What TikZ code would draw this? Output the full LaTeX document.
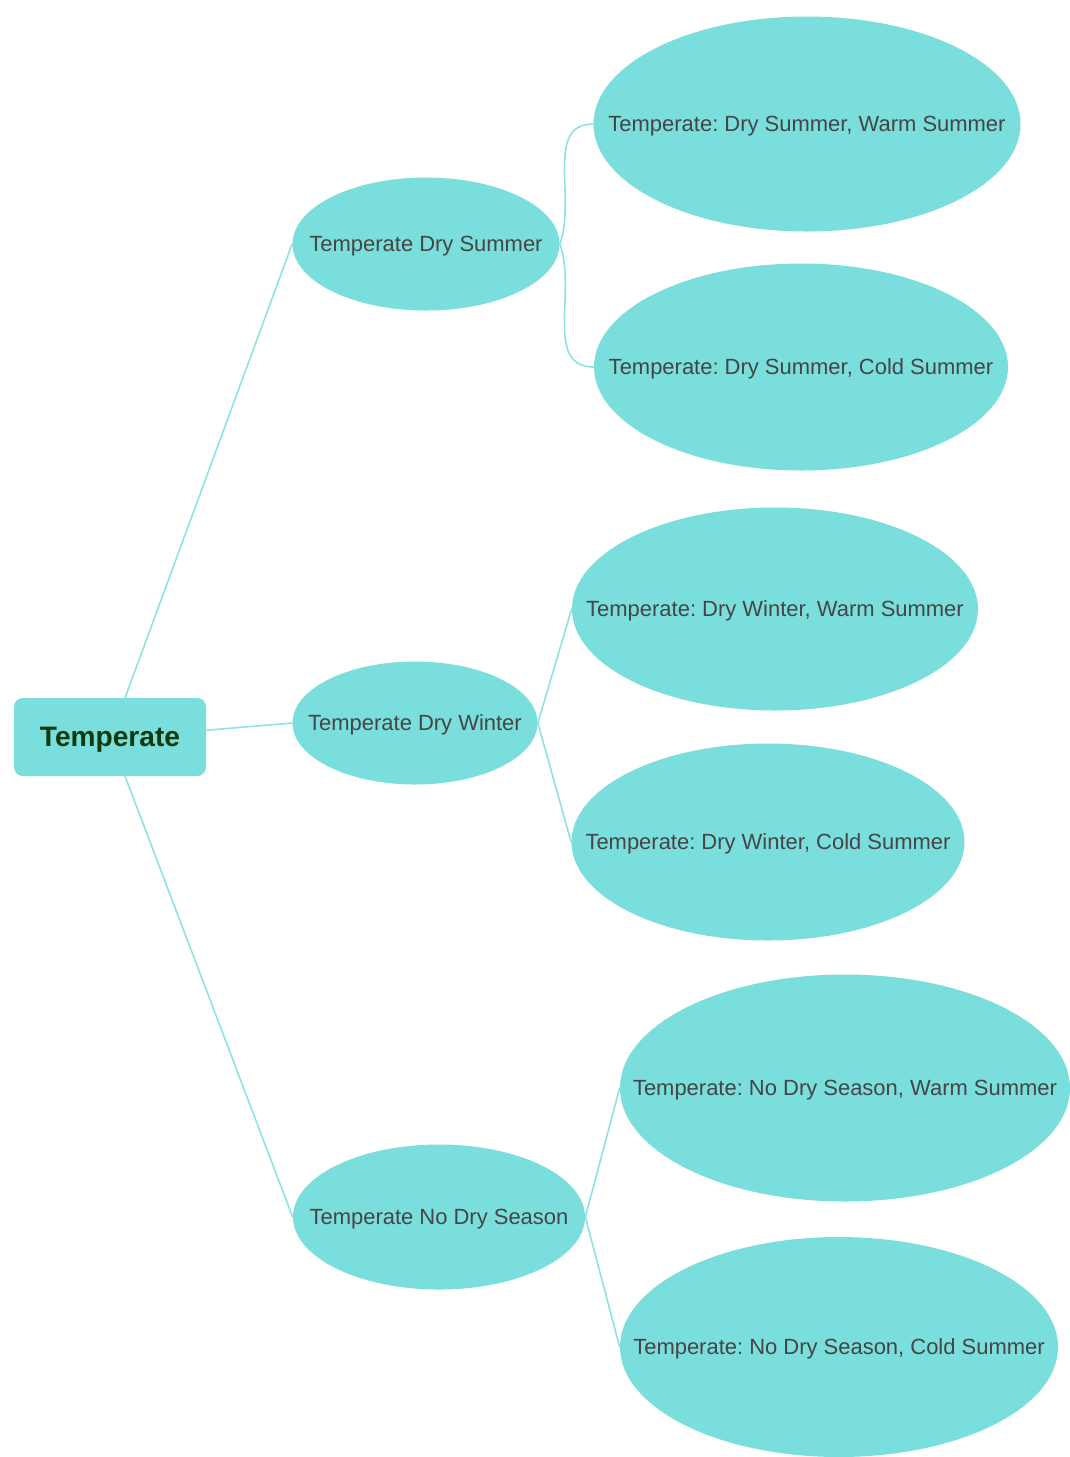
\documentclass[tikz,border=0pt]{standalone}
\usepackage{fontspec}
\setmainfont{Liberation Sans}
\usepackage{xcolor}
\usetikzlibrary{shapes.geometric}
\definecolor{leaffill}{HTML}{7ADEDC}
\definecolor{linkcol}{HTML}{8EE2E2}
\definecolor{leaftext}{HTML}{454545}
\definecolor{roottext}{HTML}{0E3A0E}
\frenchspacing
\tikzset{
  rootbox/.style={rectangle, rounded corners=5pt, fill=leaffill, minimum width=3.84cm,
    minimum height=1.56cm, text depth=0pt, font=\fontsize{16}{19}\selectfont\bfseries, text=roottext},
  % text box of zero width, so the ellipse takes its size from the minimum keys
  topic/.style={ellipse, fill=leaffill, inner sep=0pt, text depth=0pt,
    font=\fontsize{12.5}{15}\selectfont, text=leaftext,
    execute at begin node={\hbox to 0pt\bgroup\hss},
    execute at end node={\hss\egroup}},
  link/.style={draw=linkcol, line width=0.9pt},
  every picture/.style={line cap=round, line join=round}
}

\begin{document}
\begin{tikzpicture}
  \useasboundingbox (0,0) rectangle (21.4,-29.14);

  \node[rootbox] (root) at (2.20,-14.74) {Temperate};

  \node[topic, minimum width=5.34cm, minimum height=2.66cm] (drysum) at (8.52,-4.88) {Temperate Dry Summer};
  \node[topic, minimum width=4.90cm, minimum height=2.46cm] (drywin) at (8.30,-14.46) {Temperate Dry Winter};
  \node[topic, minimum width=5.84cm, minimum height=2.90cm] (nodry) at (8.78,-24.34) {Temperate No Dry Season};

  \node[topic, minimum width=8.54cm, minimum height=4.30cm] (dsw) at (16.14,-2.48) {Temperate: Dry Summer, Warm Summer};
  \node[topic, minimum width=8.28cm, minimum height=4.14cm] (dsc) at (16.02,-7.34) {Temperate: Dry Summer, Cold Summer};
  \node[topic, minimum width=8.12cm, minimum height=4.06cm] (dww) at (15.50,-12.18) {Temperate: Dry Winter, Warm Summer};
  \node[topic, minimum width=7.86cm, minimum height=3.94cm] (dwc) at (15.36,-16.84) {Temperate: Dry Winter, Cold Summer};
  \node[topic, minimum width=9.00cm, minimum height=4.54cm] (ndw) at (16.90,-21.76) {Temperate: No Dry Season, Warm Summer};
  \node[topic, minimum width=8.76cm, minimum height=4.40cm] (ndc) at (16.78,-26.94) {Temperate: No Dry Season, Cold Summer};

  % first level
  \draw[link] (root.69) -- (drysum.west);
  \draw[link] (root.4) -- (drywin.west);
  \draw[link] (root.-69) -- (nodry.west);

  % second level
  \draw[link] (drysum.east) to[out=70,in=180] (dsw.west);
  \draw[link] (drysum.east) to[out=-70,in=180] (dsc.west);
  \draw[link] (drywin.east) -- (dww.west);
  \draw[link] (drywin.east) -- (dwc.west);
  \draw[link] (nodry.east) -- (ndw.west);
  \draw[link] (nodry.east) -- (ndc.west);
\end{tikzpicture}
\end{document}
